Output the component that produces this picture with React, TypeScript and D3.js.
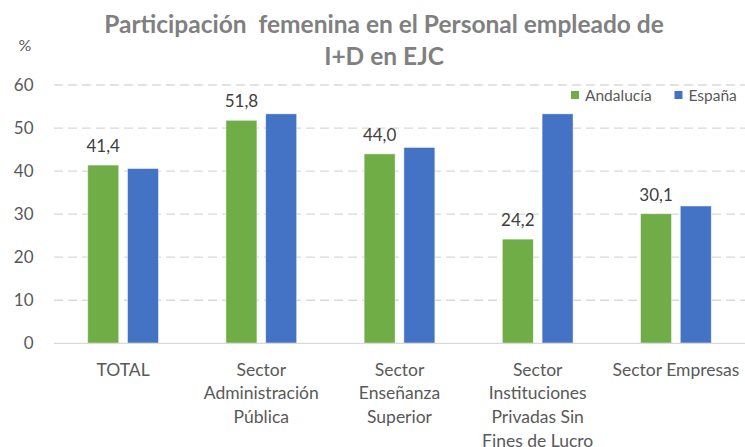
import React from "react";
import * as d3 from "d3";

const categories: string[][] = [
  ["TOTAL"],
  ["Sector", "Administración", "Pública"],
  ["Sector", "Enseñanza", "Superior"],
  ["Sector", "Instituciones", "Privadas Sin", "Fines de Lucro"],
  ["Sector Empresas"],
];
const categoryKeys = ["TOTAL", "Administración", "Enseñanza", "Instituciones", "Empresas"];
const seriesNames = ["Andalucía", "España"];
const andalucia = [41.4, 51.8, 44.0, 24.2, 30.1];
const espana = [40.6, 53.3, 45.5, 53.3, 31.9];
const yTicks = [0, 10, 20, 30, 40, 50, 60];
const titleLines = ["Participación  femenina en el Personal empleado de", "I+D en EJC"];

const W = 745;
const H = 447;
const FONT = "Lato, 'Open Sans', sans-serif";
const COLORS = ["#70AD47", "#4472C4"];

export default function App() {
  const left = 54;
  const right = 745;
  const y = d3.scaleLinear().domain([0, 60]).range([343.3, 85]);
  const x0 = d3.scaleBand<string>().domain(categoryKeys).range([left, right]).padding(0);
  const groupW = x0.bandwidth() * 0.512;
  const x1 = d3.scaleBand<string>().domain(seriesNames).range([0, groupW]).paddingInner(0.22);
  const off = (x0.bandwidth() - groupW) / 2;
  const values = [andalucia, espana];
  const fmt = (v: number) => d3.format(".1f")(v).replace(".", ",");
  const dash = "9,5";

  return (
    <svg width={W} height={H} style={{ position: "absolute", left: 0, top: 0, background: "#fff" }} fontFamily={FONT}>
      <rect x={0} y={0} width={W} height={H} fill="#fff" />
      {/* Title */}
      {titleLines.map((t, i) => (
        <text key={i} x={384} y={32.5 + i * 32.5} textAnchor="middle" fontSize={24.5} fontWeight={700} fill="#808080" style={{ whiteSpace: "pre" }}>
          {t}
        </text>
      ))}
      <text x={25} y={51} textAnchor="middle" fontSize={16} fill="#595959">%</text>

      {/* Gridlines */}
      {yTicks.map((t) => (
        <g key={t}>
          {t !== 0 && (
            <line x1={left} x2={right} y1={y(t)} y2={y(t)} stroke="#d9d9d9" strokeWidth={1.3} strokeDasharray={dash} />
          )}
          <text x={33.5} y={y(t)} dy="0.36em" textAnchor="end" fontSize={17} fill="#595959">
            {t}
          </text>
        </g>
      ))}

      {/* Bars */}
      {categoryKeys.map((c, ci) => (
        <g key={c} transform={`translate(${x0(c)! + off},0)`}>
          {seriesNames.map((s, si) => {
            const v = values[si][ci];
            return (
              <rect key={s} x={x1(s)} y={y(v)} width={x1.bandwidth()} height={y(0) - y(v)} fill={COLORS[si]} stroke="#ffffff" strokeOpacity={0.6} strokeWidth={0.8} />
            );
          })}
          <text x={x1(seriesNames[0])! + x1.bandwidth() / 2} y={y(andalucia[ci]) - 13} textAnchor="middle" fontSize={17} fill="#404040">
            {fmt(andalucia[ci])}
          </text>
        </g>
      ))}

      {/* Baseline */}
      <line x1={left} x2={right} y1={y(0)} y2={y(0)} stroke="#d9d9d9" strokeWidth={1.3} />

      {/* X labels */}
      {categoryKeys.map((c, ci) => (
        <text key={c} x={x0(c)! + x0.bandwidth() / 2} y={375.7} textAnchor="middle" fontSize={17.5} fill="#595959">
          {categories[ci].map((line, li) => (
            <tspan key={li} x={x0(c)! + x0.bandwidth() / 2} y={375.7 + li * 23.7}>
              {line}
            </tspan>
          ))}
        </text>
      ))}

      {/* Legend */}
      {seriesNames.map((s, i) => {
        const lx = [571, 674.5][i];
        return (
          <g key={s}>
            <rect x={lx} y={91} width={8} height={8} fill={COLORS[i]} />
            <text x={lx + 14} y={95} dy="0.36em" fontSize={15.5} fill="#595959">
              {s}
            </text>
          </g>
        );
      })}
    </svg>
  );
}
